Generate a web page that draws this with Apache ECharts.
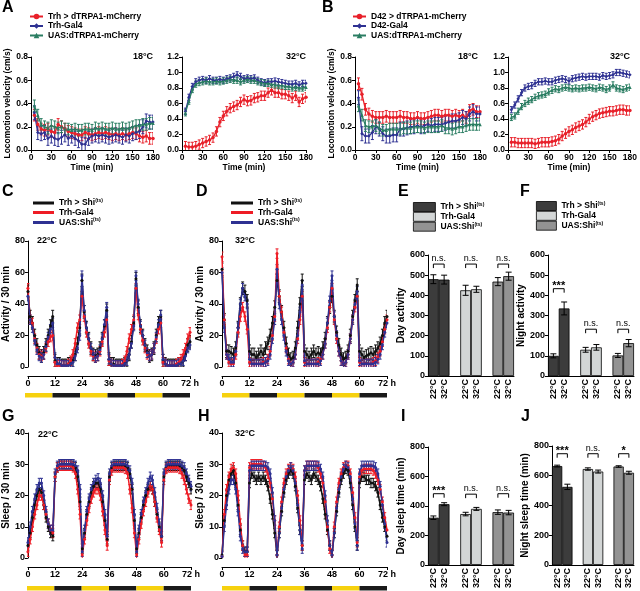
<!DOCTYPE html>
<html><head><meta charset="utf-8">
<script src="https://cdn.jsdelivr.net/npm/echarts@6/dist/echarts.min.js"></script>
<style>html,body{margin:0;padding:0;background:#fff}#c{width:640px;height:591px}</style>
</head><body><div id="c"></div>
<script>
// ---------- DATA ----------
const minutes = [5,10,15,20,25,30,35,40,45,50,55,60,65,70,75,80,85,90,95,100,105,110,115,120,125,130,135,140,145,150,155,160,165,170,175,180];
const A18_red   = [0.30,0.22,0.18,0.17,0.18,0.16,0.15,0.22,0.20,0.18,0.16,0.15,0.14,0.13,0.13,0.15,0.14,0.13,0.14,0.15,0.14,0.15,0.14,0.13,0.14,0.13,0.14,0.13,0.14,0.15,0.14,0.12,0.11,0.12,0.10,0.10];
const A18_blue  = [0.32,0.15,0.14,0.15,0.10,0.12,0.10,0.09,0.11,0.13,0.10,0.12,0.10,0.08,0.05,0.05,0.10,0.12,0.13,0.12,0.13,0.12,0.11,0.12,0.13,0.12,0.11,0.13,0.12,0.14,0.15,0.16,0.20,0.25,0.24,0.24];
const A18_green = [0.38,0.30,0.22,0.20,0.19,0.21,0.20,0.19,0.20,0.18,0.18,0.17,0.18,0.17,0.17,0.18,0.18,0.17,0.19,0.18,0.19,0.18,0.18,0.19,0.18,0.18,0.19,0.18,0.19,0.20,0.21,0.21,0.22,0.22,0.23,0.23];
const A32_red   = [0.05,0.04,0.04,0.05,0.07,0.09,0.11,0.13,0.16,0.24,0.36,0.44,0.50,0.54,0.56,0.58,0.62,0.65,0.63,0.64,0.67,0.68,0.70,0.70,0.74,0.77,0.74,0.74,0.72,0.72,0.70,0.67,0.70,0.62,0.66,0.68];
const A32_blue  = [0.50,0.68,0.82,0.88,0.90,0.91,0.90,0.92,0.90,0.90,0.91,0.90,0.92,0.93,0.95,0.97,0.95,0.92,0.93,0.92,0.93,0.90,0.88,0.87,0.88,0.88,0.89,0.88,0.87,0.86,0.85,0.85,0.86,0.84,0.86,0.86];
const A32_green = [0.48,0.63,0.78,0.85,0.87,0.88,0.89,0.88,0.88,0.89,0.88,0.89,0.90,0.91,0.90,0.90,0.88,0.90,0.91,0.90,0.90,0.88,0.87,0.86,0.86,0.85,0.84,0.83,0.83,0.82,0.82,0.80,0.81,0.80,0.80,0.81];
const B18_red   = [0.57,0.48,0.35,0.31,0.29,0.28,0.28,0.28,0.29,0.28,0.28,0.28,0.29,0.28,0.28,0.27,0.27,0.28,0.27,0.27,0.28,0.29,0.30,0.30,0.29,0.30,0.30,0.29,0.30,0.29,0.30,0.28,0.34,0.35,0.33,0.33];
const B18_blue  = [0.45,0.14,0.12,0.12,0.15,0.20,0.18,0.14,0.12,0.12,0.13,0.13,0.18,0.18,0.19,0.20,0.20,0.21,0.20,0.21,0.22,0.21,0.22,0.22,0.22,0.23,0.24,0.25,0.25,0.26,0.28,0.27,0.31,0.33,0.31,0.31];
const B18_green = [0.38,0.30,0.21,0.20,0.20,0.21,0.19,0.17,0.17,0.18,0.18,0.18,0.18,0.19,0.19,0.19,0.20,0.20,0.20,0.19,0.20,0.20,0.20,0.20,0.21,0.19,0.19,0.18,0.19,0.20,0.20,0.21,0.22,0.22,0.22,0.22];
const B32_red   = [0.10,0.10,0.09,0.09,0.09,0.09,0.09,0.08,0.09,0.10,0.10,0.10,0.11,0.12,0.14,0.18,0.21,0.24,0.26,0.29,0.31,0.33,0.36,0.40,0.43,0.45,0.47,0.48,0.49,0.50,0.50,0.51,0.52,0.52,0.51,0.51];
const B32_blue  = [0.52,0.58,0.66,0.74,0.80,0.82,0.83,0.86,0.88,0.88,0.89,0.88,0.88,0.90,0.91,0.92,0.91,0.89,0.92,0.93,0.94,0.95,0.94,0.95,0.95,0.95,0.94,0.96,0.95,0.96,0.97,1.00,1.00,0.99,0.98,0.97];
const B32_green = [0.42,0.44,0.50,0.56,0.60,0.63,0.65,0.68,0.70,0.71,0.72,0.75,0.77,0.79,0.78,0.80,0.81,0.80,0.79,0.80,0.79,0.80,0.80,0.81,0.80,0.79,0.81,0.80,0.78,0.80,0.84,0.80,0.79,0.78,0.80,0.81];
const errAB = {red18:0.05, blue18:0.06, green18:0.05, red32:0.06, blue32:0.04, green32:0.04};

const hours = [0,1,2,3,4,5,6,7,8,9,10,11,12,13,14,15,16,17,18,19,20,21,22,23,24,25,26,27,28,29,30,31,32,33,34,35,36,37,38,39,40,41,42,43,44,45,46,47,48,49,50,51,52,53,54,55,56,57,58,59,60,61,62,63,64,65,66,67,68,69,70,71,72];
const C_black = [48,32,28,20,14,9,7,9,14,20,26,32, 4,2,2,1,1,1,2,2,4,8,15,25, 55,35,25,18,12,8,7,8,12,18,26,36, 5,2,2,1,1,1,1,2,4,8,16,28, 56,38,26,20,14,10,7,8,12,20,28,32, 4,2,1,1,1,1,1,2,2,4,8,14,16];
const C_red   = [50,30,28,18,12,8,7,8,12,16,19,20, 3,1,1,1,1,1,2,4,8,15,25,30, 45,32,22,15,10,7,6,7,10,16,22,30, 4,2,1,1,1,1,2,4,10,18,24,30, 50,33,24,17,12,8,7,8,12,18,24,28, 3,2,1,1,1,1,2,3,5,8,12,18,22];
const C_blue  = [45,30,25,17,11,7,6,8,13,19,24,28, 6,2,2,1,1,1,1,2,3,7,12,20, 58,36,25,18,12,8,6,7,11,18,27,38, 5,2,1,1,1,1,1,2,4,8,15,26, 58,40,26,20,14,9,7,8,12,19,27,33, 5,2,1,1,1,1,1,2,2,4,7,12,14];
const D_black = [62,30,10,10,9,8,12,25,40,50,48,42, 10,8,8,6,8,10,8,12,15,20,28,38, 55,45,35,25,15,8,5,6,12,25,40,55, 10,8,6,8,10,8,9,8,12,18,28,38, 45,32,22,14,8,5,6,10,20,32,42,52, 10,8,6,7,8,9,8,10,12,15,20,28,32];
const D_red   = [70,30,8,3,2,2,8,22,32,38,32,24, 3,2,2,2,2,2,3,3,5,10,20,32, 72,45,35,22,12,5,2,3,8,18,30,45, 3,2,2,2,2,2,3,5,8,15,25,38, 50,30,18,10,4,2,3,8,18,30,38,45, 3,2,2,2,2,2,3,4,6,10,16,24,30];
const D_blue  = [60,25,8,5,3,3,10,25,40,50,45,40, 5,2,2,2,2,2,2,3,4,8,18,30, 62,40,30,20,10,4,2,3,8,20,35,52, 4,2,2,2,2,2,2,4,8,15,28,42, 58,32,20,10,4,2,3,8,18,30,40,48, 4,2,2,2,2,2,2,3,5,8,14,22,28];
const G_black = [4,8,13,17,20,22,21,17,13,10,8,7, 26,29,29.5,30,30,30,30,30,29.5,29,26,18, 3,8,14,18,21,23,24,24,22,18,12,6, 26,29,29.5,29.5,29.5,29.5,29.5,29.5,29,27,22,12, 3,8,13,17,20,22,23,22,18,14,10,7, 26,29,29.5,29.5,29.5,29.5,29.5,29.5,29,28,26,24,22];
const G_red   = [2,6,10,14,17,20,20,17,14,11,9,8, 26,29,29.5,29.5,29.5,29.5,29.5,29.5,29,27,22,14, 1,6,12,16,19,21,22,22,20,15,9,4, 25,28,29,29,29,29,29,28.5,27,22,16,8, 1,6,11,15,18,21,23,22,18,13,9,5, 25,28.5,29,29,29,29,29,28.5,27,25,22,19,17];
const G_blue  = [5,10,15,19,22,24,24,20,15,11,9,9, 27,29.5,30,30,30,30,30,30,30,29.5,28,22, 2,9,15,19,22,24,25,25.5,24,20,14,7, 27,29.5,30,30,30,30,30,30,29.5,28,24,14, 2,9,14,18,21,24,26,25,21,16,11,7, 27,29.5,30,30,30,30,30,30,29.5,29,27,25,23];
const H_black = [1,12,20,25,27,28,24,17,9,4,2,2, 24,27,26,25,26,25,26,25,23,19,14,8, 1,8,15,21,25,27,28,27,23,16,9,4, 25,27,26,25,27,26,25,23,19,14,9,4, 1,8,15,21,25,27,28.5,28,24,17,10,4, 24,26,26,25,25,24,24,23,21,17,13,10,7];
const H_red   = [0.5,14,22,26,28.5,29,27,20,11,4,1,1, 29,30,30,30,30,30,29.5,29,27,24,19,12, 1,10,18,24,27,28.5,29,28.5,26,20,12,4, 28,29.5,29.5,29.5,29.5,29.5,29,27,24,18,10,3, 1,10,18,24,27,29,29.5,29.5,27,21,13,5, 26,28,28.5,28.5,28.5,28.5,28,27,25,22,18,13,9];
const H_blue  = [0.5,10,17,22,25,25,22,15,7,3,2,2, 28,29.5,29.5,29.5,29.5,29.5,29.5,29.5,29,27,21,12, 1,8,16,22,26,28,29,28,24,17,9,3, 28,29.5,29.5,29.5,29.5,29.5,29.5,28.5,26,20,12,4, 1,8,16,22,26,28.5,29.5,29,26,19,11,4, 27,29.5,29.5,29.5,29.5,29.5,29.5,29,27,23,17,11,5];
const errAct = {black:4, red:3, blue:3};
const errSlp = {black:1.5, red:1.5, blue:1.5};
const ldStart = [0,12,24,36,48,60];
const ldEnd   = [12,24,36,48,60,72];
const ldPhase = ['L','D','L','D','L','D'];

const shiNames  = ['Trh > Shi(ts)', 'Trh-Gal4', 'UAS:Shi(ts)'];
const slotKeys  = ['g1a','g1b','s1','g2a','g2b','s2','g3a','g3b'];
const slotLabels= ['22°C','32°C','','22°C','32°C','','22°C','32°C'];
const slotGeno  = [0,0,null,1,1,null,2,2];
const slotTemp  = [0,1,null,0,1,null,0,1];
const E_22=[480,425,468], E_32=[478,430,495], E_e22=[22,25,20], E_e32=[22,15,20];
const E_brk=[555,555,555], E_txt=['n.s.','n.s.','n.s.'];
const F_22=[100,130,102], F_32=[335,142,163], F_e22=[10,12,10], F_e32=[32,14,18];
const F_brk=[433,232,232], F_txt=['***','n.s.','n.s.'];
const I_22=[320,345,358], I_32=[412,380,355], I_e22=[12,12,15], I_e32=[10,10,15];
const I_brk=[483,480,483], I_txt=['***','n.s.','n.s.'];
const J_22=[665,645,662], J_32=[525,628,620], J_e22=[6,8,5], J_e32=[18,10,10];
const J_brk=[748,748,748], J_txt=['***','n.s.','*'];

// ---------- BUILD ----------
const FONT = '"Liberation Sans", Arial, Helvetica, sans-serif';
const RED='#e8202a', BLUE='#2e3192', GREEN='#2a7d62', BLK='#111111', RED2='#ee1c25';
const barColors=['#3c3c3c','#d3d6d6','#939393'];
const grids=[], xAxes=[], yAxes=[], series=[], titles=[], legends=[];
function addGrid(g){ grids.push(Object.assign({containLabel:false}, g)); return grids.length-1; }
function lbl(fs){ return {fontSize:fs, fontWeight:'bold', color:'#000', fontFamily:FONT}; }
const lineKey = function(n){ return 'cd|' + n; };
const barKey  = function(n){ return 'bar|' + n; };

function errSeries(gi, pts, color, capW, clip, z){
  return {type:'custom', xAxisIndex:gi, yAxisIndex:gi, data:pts, clip:clip, silent:true, z:z||2,
    encode:{x:0,y:1},
    renderItem:function(params, api){
      const x=api.value(0), y=api.value(1), e=api.value(2);
      const t=api.coord([x,y+e]), b=api.coord([x,y-e]);
      const st={stroke:color, lineWidth:1};
      return {type:'group', children:[
        {type:'line', shape:{x1:t[0],y1:t[1],x2:b[0],y2:b[1]}, style:st},
        {type:'line', shape:{x1:t[0]-capW,y1:t[1],x2:t[0]+capW,y2:t[1]}, style:st},
        {type:'line', shape:{x1:b[0]-capW,y1:b[1],x2:b[0]+capW,y2:b[1]}, style:st}]};
    }};
}

function linePanel(o){
  const gi=addGrid(o.grid);
  xAxes.push({type:'value', gridIndex:gi, min:o.xMin, max:o.xMax, interval:o.xInt, offset:o.xOffset||0,
    name:o.xName||'', nameLocation:'middle', nameGap:o.xNameGap||15, nameTextStyle:lbl(o.nfs),
    axisLine:{show:true,onZero:false,lineStyle:{color:'#000',width:1}},
    axisTick:{show:true,length:3,lineStyle:{color:'#000'}},
    axisLabel:Object.assign(lbl(o.fs),{margin:3, formatter:o.xFmt}), splitLine:{show:false}});
  yAxes.push({type:'value', gridIndex:gi, min:o.yMin, max:o.yMax, interval:o.yInt,
    name:o.yName||'', nameLocation:'middle', nameGap:o.yNameGap||20, nameRotate:90, nameTextStyle:lbl(o.nfs),
    axisLine:{show:true,lineStyle:{color:'#000',width:1}},
    axisTick:{show:true,length:3,lineStyle:{color:'#000'}},
    axisLabel:Object.assign(lbl(o.fs),{margin:3, formatter:o.yFmt}), splitLine:{show:false}});
  o.series.forEach(function(s){
    series.push({type:'line', name:s.name, xAxisIndex:gi, yAxisIndex:gi,
      data:o.xs.map(function(x,i){return [x, s.data[i]];}),
      symbol:s.symbol||'circle', symbolSize:o.symSize, showSymbol:true,
      itemStyle:{color:s.color}, lineStyle:{color:s.color,width:o.lw}, silent:true});
    series.push(errSeries(gi, o.xs.map(function(x,i){return [x, s.data[i], s.err];}), s.color, o.cap, true));
  });
  return gi;
}

function ldBar(g){
  const gi=addGrid(g);
  xAxes.push({type:'value', gridIndex:gi, min:0, max:72, show:false});
  yAxes.push({type:'value', gridIndex:gi, min:0, max:1, show:false});
  series.push({type:'custom', xAxisIndex:gi, yAxisIndex:gi, silent:true,
    data:ldStart.map(function(s,i){return [s, ldEnd[i], ldPhase[i]==='L'?0:1];}),
    renderItem:function(p, api){
      const a=api.coord([api.value(0),1]), b=api.coord([api.value(1),0]);
      return {type:'rect', shape:{x:a[0], y:a[1], width:b[0]-a[0], height:b[1]-a[1]},
        style:{fill: api.value(2)===0 ? '#f6d10e' : '#1a1a1a'}};
    }});
}

function barPanel(o){
  const gi=addGrid(o.grid);
  xAxes.push({type:'category', gridIndex:gi, data:slotKeys, boundaryGap:true,
    axisLine:{show:true,lineStyle:{color:'#000',width:1}}, axisTick:{show:false},
    axisLabel:Object.assign(lbl(9),{interval:0, rotate:90, margin:3, formatter:function(v,i){return slotLabels[i];}})});
  yAxes.push({type:'value', gridIndex:gi, min:0, max:o.yMax, interval:o.yInt,
    name:o.yName, nameLocation:'middle', nameGap:o.yNameGap, nameRotate:90, nameTextStyle:lbl(10),
    axisLine:{show:true,lineStyle:{color:'#000',width:1}},
    axisTick:{show:true,length:3,lineStyle:{color:'#000'}},
    axisLabel:Object.assign(lbl(9),{margin:3}), splitLine:{show:false}});
  shiNames.forEach(function(nm, g){
    series.push({type:'bar', name:barKey(nm), xAxisIndex:gi, yAxisIndex:gi, stack:'st'+gi, barWidth:'100%', silent:true,
      data:slotGeno.map(function(sg, si){ return sg===g ? (slotTemp[si]===0 ? o.v22[g] : o.v32[g]) : '-'; }),
      itemStyle:{color:barColors[g], borderColor:'#000', borderWidth:0.8}});
  });
  const ep=[];
  slotGeno.forEach(function(sg, si){ if(sg!==null){ const t=slotTemp[si];
    ep.push([si, t ? o.v32[sg] : o.v22[sg], t ? o.e32[sg] : o.e22[sg]]); }});
  series.push(errSeries(gi, ep, '#000', 3, false, 5));
  const bp=o.brk.map(function(y, g){ const s=slotGeno.indexOf(g); return [s, s+1, y]; });
  series.push({type:'custom', xAxisIndex:gi, yAxisIndex:gi, data:bp, silent:true, z:5, encode:{x:0,y:2},
    renderItem:function(p, api){
      const a=api.coord([api.value(0), api.value(2)]), b=api.coord([api.value(1), api.value(2)]);
      const txt=o.txt[p.dataIndex]; const star=txt.indexOf('*')>=0;
      return {type:'group', children:[
        {type:'polyline', shape:{points:[[a[0],a[1]+4],[a[0],a[1]],[b[0],b[1]],[b[0],b[1]+4]]}, style:{stroke:'#000', lineWidth:1, fill:null}},
        {type:'text', style:{text:txt, x:(a[0]+b[0])/2, y:a[1]+(star?3:-1), textAlign:'center', textVerticalAlign:'bottom',
          font:(star?'bold 11px ':'9px ')+FONT, fill:'#000'}}]};
    }});
}

// ---- Panels A & B ----
const fmt1=function(v){return v.toFixed(1);};
const abCommon={xMin:0,xMax:180,xInt:30,yMin:0,yInt:0.2,xs:minutes,fs:8.5,nfs:8.5,lw:1.3,symSize:3.5,cap:1.5,xName:'Time (min)',xNameGap:13,yFmt:fmt1};
linePanel(Object.assign({}, abCommon, {grid:{left:31,top:57,width:122,height:93}, yMax:0.8, yName:'Locomotion velocity (cm/s)', yNameGap:19,
  series:[{name:'Trh > dTRPA1-mCherry',data:A18_red,err:errAB.red18,color:RED,symbol:'circle'},
          {name:'Trh-Gal4',data:A18_blue,err:errAB.blue18,color:BLUE,symbol:'diamond'},
          {name:'UAS:dTRPA1-mCherry',data:A18_green,err:errAB.green18,color:GREEN,symbol:'triangle'}]}));
linePanel(Object.assign({}, abCommon, {grid:{left:182,top:57,width:124,height:93}, yMax:1.2,
  series:[{name:'Trh > dTRPA1-mCherry',data:A32_red,err:errAB.red32,color:RED,symbol:'circle'},
          {name:'Trh-Gal4',data:A32_blue,err:errAB.blue32,color:BLUE,symbol:'diamond'},
          {name:'UAS:dTRPA1-mCherry',data:A32_green,err:errAB.green32,color:GREEN,symbol:'triangle'}]}));
linePanel(Object.assign({}, abCommon, {grid:{left:355,top:57,width:125,height:93}, yMax:0.8, yName:'Locomotion velocity (cm/s)', yNameGap:19,
  series:[{name:'D42 > dTRPA1-mCherry',data:B18_red,err:errAB.red18,color:RED,symbol:'circle'},
          {name:'D42-Gal4',data:B18_blue,err:errAB.blue18,color:BLUE,symbol:'diamond'},
          {name:'UAS:dTRPA1-mCherry',data:B18_green,err:errAB.green18,color:GREEN,symbol:'triangle'}]}));
linePanel(Object.assign({}, abCommon, {grid:{left:508,top:57,width:124,height:93}, yMax:1.2,
  series:[{name:'D42 > dTRPA1-mCherry',data:B32_red,err:errAB.red32,color:RED,symbol:'circle'},
          {name:'D42-Gal4',data:B32_blue,err:errAB.blue32,color:BLUE,symbol:'diamond'},
          {name:'UAS:dTRPA1-mCherry',data:B32_green,err:errAB.green32,color:GREEN,symbol:'triangle'}]}));

// ---- Panels C, D, G, H ----
const hFmt=function(v){return v===72?'72 h':String(v);};
const cdCommon={xMin:0,xMax:72,xInt:12,yMin:0,xs:hours,fs:9,nfs:10,lw:1.5,symSize:3,cap:1.5,xOffset:9,xFmt:hFmt};
function trio(b,r,u,err){ return [
  {name:lineKey(shiNames[0]),data:b,err:err.black,color:BLK},
  {name:lineKey(shiNames[1]),data:r,err:err.red,color:RED2},
  {name:lineKey(shiNames[2]),data:u,err:err.blue,color:BLUE}]; }
linePanel(Object.assign({}, cdCommon, {grid:{left:25,top:241,width:165,height:126}, yMax:80, yInt:20, yName:'Activity / 30 min', yNameGap:12, series:trio(C_black,C_red,C_blue,errAct)}));
linePanel(Object.assign({}, cdCommon, {grid:{left:222,top:241,width:165,height:126}, yMax:80, yInt:20, yName:'Activity / 30 min', yNameGap:12, series:trio(D_black,D_red,D_blue,errAct)}));
linePanel(Object.assign({}, cdCommon, {grid:{left:27,top:433,width:164,height:125}, yMax:40, yInt:10, yName:'Sleep / 30 min', yNameGap:12, series:trio(G_black,G_red,G_blue,errSlp)}));
linePanel(Object.assign({}, cdCommon, {grid:{left:222,top:433,width:165,height:125}, yMax:40, yInt:10, yName:'Sleep / 30 min', yNameGap:12, series:trio(H_black,H_red,H_blue,errSlp)}));
ldBar({left:25,top:393,width:165,height:4.5});
ldBar({left:222,top:393,width:165,height:4.5});
ldBar({left:27,top:586,width:164,height:4.5});
ldBar({left:222,top:586,width:165,height:4.5});

// ---- Bar panels ----
barPanel({grid:{left:428,top:255,width:86,height:121}, yMax:600, yInt:100, yName:'Day activity', yNameGap:20, v22:E_22, v32:E_32, e22:E_e22, e32:E_e32, brk:E_brk, txt:E_txt});
barPanel({grid:{left:548,top:255,width:86,height:121}, yMax:600, yInt:100, yName:'Night activity', yNameGap:17, v22:F_22, v32:F_32, e22:F_e22, e32:F_e32, brk:F_brk, txt:F_txt});
barPanel({grid:{left:428,top:447,width:86,height:121}, yMax:800, yInt:200, yName:'Day sleep time (min)', yNameGap:18, v22:I_22, v32:I_32, e22:I_e22, e32:I_e32, brk:I_brk, txt:I_txt});
barPanel({grid:{left:552,top:446,width:82,height:121}, yMax:800, yInt:200, yName:'Night sleep time (min)', yNameGap:20, v22:J_22, v32:J_32, e22:J_e22, e32:J_e32, brk:J_brk, txt:J_txt});

// ---- Titles ----
function T(text, pos, fs){ titles.push(Object.assign({text:text, padding:0, textStyle:lbl(fs)}, pos)); }
T('A',{left:2,top:0},16); T('B',{left:322,top:0},16);
T('C',{left:2,top:184},16); T('D',{left:196,top:184},16);
T('E',{left:398,top:184},16); T('F',{left:520,top:184},16);
T('G',{left:2,top:409},16); T('H',{left:198,top:409},16);
T('I',{left:401,top:409},16); T('J',{left:521,top:409},16);
T('18°C',{right:640-153,top:52},9); T('32°C',{right:640-306,top:52},9);
T('18°C',{right:640-478,top:52},9); T('32°C',{right:640-630,top:52},9);
T('22°C',{left:37,top:236},9); T('32°C',{left:235,top:236},9);
T('22°C',{left:38,top:430},9); T('32°C',{left:235,top:429},9);

// ---- Legends ----
const supFmt=function(n){ return n.split('|').pop().replace('(ts)','{s|(ts)}'); };
const legText={fontSize:8.5, fontWeight:'bold', color:'#000', fontFamily:FONT, lineHeight:9,
  rich:{s:{fontSize:5, fontWeight:'bold', fontFamily:FONT, color:'#000', padding:[0,0,5,0]}}};
legends.push({left:29, top:12, orient:'vertical', padding:0, itemGap:0.5, itemWidth:13, itemHeight:7, selectedMode:false,
  data:['Trh > dTRPA1-mCherry','Trh-Gal4','UAS:dTRPA1-mCherry'], textStyle:legText});
legends.push({left:352, top:12, orient:'vertical', padding:0, itemGap:0.5, itemWidth:13, itemHeight:7, selectedMode:false,
  data:['D42 > dTRPA1-mCherry','D42-Gal4','UAS:dTRPA1-mCherry'], textStyle:legText});
const lineLegData=shiNames.map(function(n){return {name:lineKey(n), icon:'rect'};});
legends.push({left:33, top:198, orient:'vertical', padding:0, itemGap:0.5, itemWidth:21, itemHeight:3, selectedMode:false,
  data:lineLegData, formatter:supFmt, textStyle:legText});
legends.push({left:231, top:198, orient:'vertical', padding:0, itemGap:0.5, itemWidth:22, itemHeight:3, selectedMode:false,
  data:lineLegData, formatter:supFmt, textStyle:legText});
const barLegData=shiNames.map(function(n){return {name:barKey(n), icon:'rect'};});
legends.push({left:413, top:202, orient:'vertical', padding:0, itemGap:0, itemWidth:22, itemHeight:9, selectedMode:false,
  data:barLegData, formatter:supFmt, itemStyle:{borderColor:'#000', borderWidth:0.8}, textStyle:Object.assign({}, legText, {lineHeight:9.3})});
legends.push({left:536, top:201, orient:'vertical', padding:0, itemGap:0, itemWidth:20, itemHeight:9, selectedMode:false,
  data:barLegData, formatter:supFmt, itemStyle:{borderColor:'#000', borderWidth:0.8}, textStyle:Object.assign({}, legText, {lineHeight:9.3})});

const chart=echarts.init(document.getElementById('c'), null, {renderer:'canvas'});
chart.setOption({animation:false, backgroundColor:'#fff', textStyle:{fontFamily:FONT},
  title:titles, legend:legends, grid:grids, xAxis:xAxes, yAxis:yAxes, series:series});
</script></body></html>
